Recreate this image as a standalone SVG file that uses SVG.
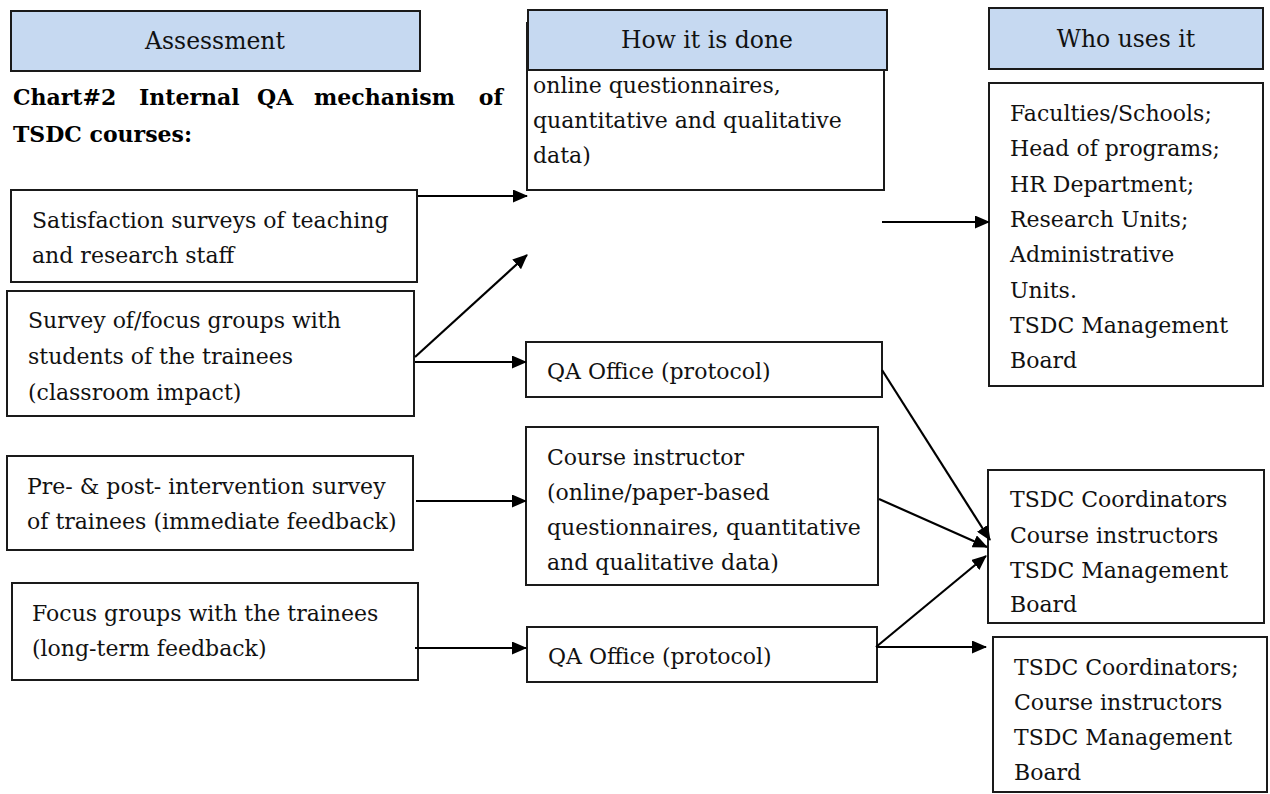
<svg xmlns="http://www.w3.org/2000/svg" width="1270" height="794" viewBox="0 0 1270 794">
<style>
.bg{fill:#ffffff}
.box{fill:#ffffff;stroke:#1a1a1a;stroke-width:2}
.hdr{fill:#c6d9f1;stroke:#1a1a1a;stroke-width:2}
text{font-family:'DejaVu Serif',serif;fill:#111}
.t{font-size:22px}
.h{font-size:23.5px;text-anchor:middle}
.title{font-size:22px;font-weight:bold;fill:#000}
.c{stroke:#000;stroke-width:2.2;fill:none;marker-end:url(#ah)}
</style>
<defs>
<marker id="ah" markerUnits="userSpaceOnUse" markerWidth="15" markerHeight="13" refX="14" refY="6.5" orient="auto">
<path d="M0,0 L15,6.5 L0,13 Z" fill="#000"/>
</marker>
</defs>
<rect class="bg" x="0" y="0" width="1270" height="794"/>

<g id="title">
<text class="title" x="13" y="105">Chart#2</text>
<text class="title" x="139" y="105">Internal</text>
<text class="title" x="257" y="105">QA</text>
<text class="title" x="314" y="105">mechanism</text>
<text class="title" x="503" y="105" text-anchor="end">of</text>
<text class="title" x="13" y="142">TSDC courses:</text>
</g>

<g id="hdr-assessment">
<rect class="hdr" x="11" y="11" width="409" height="60"/>
<text class="h" x="215" y="49">Assessment</text>
</g>

<g id="how-online">
<rect class="box" x="527" y="23" width="357" height="167"/>
<text class="t" x="533" y="93">online questionnaires,</text>
<text class="t" x="533" y="128">quantitative and qualitative</text>
<text class="t" x="533" y="163">data)</text>
</g>

<g id="hdr-how">
<rect class="hdr" x="528" y="10" width="359" height="60"/>
<text class="h" x="707" y="48">How it is done</text>
</g>

<g id="hdr-who">
<rect class="hdr" x="989" y="8" width="274" height="61"/>
<text class="h" x="1126" y="47">Who uses it</text>
</g>

<g id="who-1">
<rect class="box" x="989" y="83" width="274" height="303"/>
<text class="t" x="1010" y="121">Faculties/Schools;</text>
<text class="t" x="1010" y="156">Head of programs;</text>
<text class="t" x="1010" y="192">HR Department;</text>
<text class="t" x="1010" y="227">Research Units;</text>
<text class="t" x="1010" y="262">Administrative</text>
<text class="t" x="1010" y="298">Units.</text>
<text class="t" x="1010" y="333">TSDC Management</text>
<text class="t" x="1010" y="368">Board</text>
</g>

<g id="a-satisfaction">
<rect class="box" x="11" y="190" width="406" height="92"/>
<text class="t" x="32" y="228">Satisfaction surveys of teaching</text>
<text class="t" x="32" y="263">and research staff</text>
</g>

<g id="a-survey">
<rect class="box" x="7" y="291" width="407" height="125"/>
<text class="t" x="28" y="328">Survey of/focus groups with</text>
<text class="t" x="28" y="364">students of the trainees</text>
<text class="t" x="28" y="400">(classroom impact)</text>
</g>

<g id="a-prepost">
<rect class="box" x="7" y="456" width="406" height="94"/>
<text class="t" x="27" y="494">Pre- &amp; post- intervention survey</text>
<text class="t" x="27" y="529">of trainees (immediate feedback)</text>
</g>

<g id="a-focus">
<rect class="box" x="12" y="583" width="406" height="97"/>
<text class="t" x="32" y="621">Focus groups with the trainees</text>
<text class="t" x="32" y="656">(long-term feedback)</text>
</g>

<g id="how-qa1">
<rect class="box" x="526" y="342" width="356" height="55"/>
<text class="t" x="547" y="379">QA Office (protocol)</text>
</g>

<g id="how-course">
<rect class="box" x="526" y="427" width="352" height="158"/>
<text class="t" x="547" y="465">Course instructor</text>
<text class="t" x="547" y="500">(online/paper-based</text>
<text class="t" x="547" y="535">questionnaires, quantitative</text>
<text class="t" x="547" y="570">and qualitative data)</text>
</g>

<g id="how-qa2">
<rect class="box" x="527" y="627" width="350" height="55"/>
<text class="t" x="548" y="664">QA Office (protocol)</text>
</g>

<g id="who-2">
<rect class="box" x="988" y="470" width="276" height="153"/>
<text class="t" x="1010" y="507">TSDC Coordinators</text>
<text class="t" x="1010" y="543">Course instructors</text>
<text class="t" x="1010" y="578">TSDC Management</text>
<text class="t" x="1010" y="612">Board</text>
</g>

<g id="who-3">
<rect class="box" x="993" y="637" width="274" height="155"/>
<text class="t" x="1014" y="675">TSDC Coordinators;</text>
<text class="t" x="1014" y="710">Course instructors</text>
<text class="t" x="1014" y="745">TSDC Management</text>
<text class="t" x="1014" y="780">Board</text>
</g>

<g id="connectors">
<path class="c" d="M418,196 L527,196"/>
<path class="c" d="M415,357 L527,255"/>
<path class="c" d="M415,362 L526,362"/>
<path class="c" d="M416,501 L526,501"/>
<path class="c" d="M415,648 L526,648"/>
<path class="c" d="M882,222 L989,222"/>
<path class="c" d="M882,370 L990,540"/>
<path class="c" d="M879,499 L987,547"/>
<path class="c" d="M876,647 L986,556"/>
<path class="c" d="M876,647 L986,647"/>
</g>
</svg>
